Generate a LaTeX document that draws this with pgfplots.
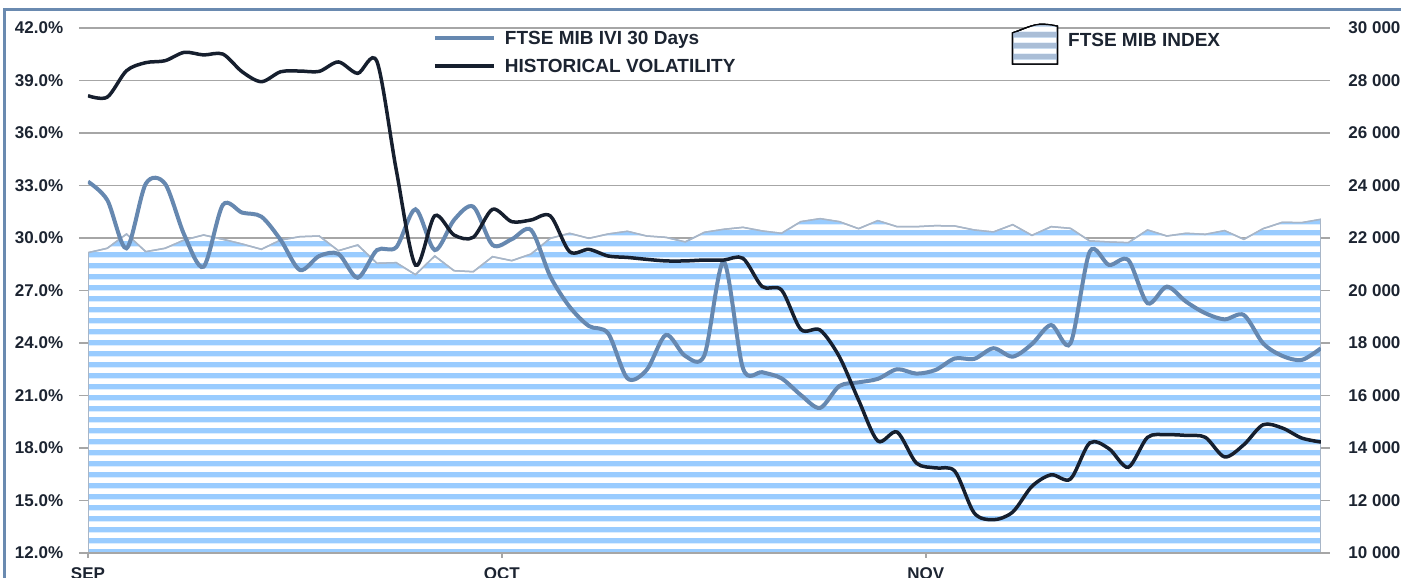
\documentclass[border=0pt]{standalone}
\usepackage{fontspec}
\setmainfont{Liberation Sans}
\usepackage{pgfplots}
\usepackage{pgfplotstable}
\pgfplotsset{compat=1.18}
\usetikzlibrary{patterns}

\definecolor{ivi}{RGB}{102,136,176}
\definecolor{hv}{RGB}{22,31,46}
\definecolor{stripe}{RGB}{153,204,255}
\definecolor{lgstripe}{RGB}{170,190,215}
\definecolor{edgec}{RGB}{168,182,200}
\definecolor{framec}{RGB}{106,138,176}
\definecolor{gridc}{RGB}{166,166,166}
\definecolor{txt}{RGB}{28,36,49}

\pgfdeclarepatternformonly{hstripes}{\pgfpoint{0pt}{0pt}}{\pgfpoint{10pt}{11pt}}{\pgfpoint{10pt}{11pt}}{%
  \pgfpathrectangle{\pgfpoint{-1pt}{1.8pt}}{\pgfpoint{12pt}{5.8pt}}\pgfusepath{fill}}

\pgfplotstableread{
i idx ivi hv
0 21440 33.22 38.13
1 21608 32.17 38.05
2 22152 29.41 39.56
3 21478 33.10 40.02
4 21608 33.10 40.13
5 21924 30.17 40.61
6 22114 28.36 40.46
7 21950 31.89 40.51
8 21771 31.45 39.50
9 21570 31.22 38.93
10 21924 29.89 39.50
11 22050 28.17 39.54
12 22076 28.97 39.52
13 21516 29.09 40.06
14 21733 27.73 39.41
15 21036 29.31 40.08
16 21059 29.47 33.90
17 20602 31.64 28.45
18 21314 29.31 31.27
19 20754 31.03 30.17
20 20716 31.79 30.04
21 21288 29.60 31.64
22 21136 29.93 30.93
23 21390 30.46 31.03
24 21988 27.80 31.26
25 22178 26.07 29.22
26 21988 24.97 29.35
27 22152 24.55 28.97
28 22254 21.98 28.89
29 22076 22.46 28.78
30 22025 24.46 28.69
31 21848 23.26 28.69
32 22216 23.31 28.74
33 22330 28.65 28.74
34 22406 22.55 28.84
35 22267 22.33 27.22
36 22178 21.98 27.03
37 22622 21.03 24.78
38 22736 20.29 24.74
39 22622 21.54 23.22
40 22356 21.75 20.74
41 22660 21.95 18.40
42 22432 22.50 18.91
43 22432 22.25 17.14
44 22470 22.46 16.86
45 22457 23.12 16.67
46 22305 23.09 14.29
47 22229 23.70 13.90
48 22508 23.22 14.34
49 22101 23.94 15.81
50 22432 25.03 16.47
51 22368 23.98 16.23
52 21886 29.22 18.29
53 21848 28.46 17.96
54 21822 28.74 16.90
55 22305 26.27 18.61
56 22076 27.22 18.76
57 22178 26.36 18.72
58 22140 25.70 18.61
59 22280 25.35 17.49
60 21950 25.60 18.19
61 22356 23.98 19.33
62 22597 23.26 19.14
63 22584 23.03 18.57
64 22711 23.70 18.34
}\chartdata

\begin{document}
\begin{tikzpicture}
\path[use as bounding box] (0,0) rectangle (1401pt,578pt);
\draw[framec, line width=3.3pt] (4.3pt,-20pt) -- (4.3pt,568.5pt) -- (1430pt,568.5pt);

% right axis: index area + grid
\begin{axis}[
  at={(88pt,25pt)}, anchor=south west,
  width=1233pt, height=525pt, scale only axis,
  xmin=0, xmax=64, ymin=10000, ymax=30000,
  scaled y ticks=false,
  axis x line=none,
  axis y line*=right,
  y axis line style={draw=none},
  ytick={10000,12000,14000,16000,18000,20000,22000,24000,26000,28000,30000},
  yticklabels={10 000,12 000,14 000,16 000,18 000,20 000,22 000,24 000,26 000,28 000,30 000},
  ymajorgrids,
  grid style={gridc, line width=1.5pt},
  tick style={gridc, line width=1.5pt},
  tick align=outside, major tick length=9pt,
  yticklabel style={font=\fontsize{17}{19}\selectfont\bfseries, text=txt, xshift=15pt},
  legend style={at={(0.7494,1.0095)}, anchor=north west, draw=none, fill=none,
    inner sep=0pt, outer sep=0pt, column sep=10pt,
    font=\fontsize{19}{22}\selectfont\bfseries, text=txt,
    nodes={inner sep=0pt, text height=13.6pt, text depth=0pt}},
  legend cell align=left,
]
\addplot[draw=edgec, line width=1.5pt, fill=white,
  postaction={pattern=hstripes, pattern color=stripe},
  legend image code/.code={
    \draw[black!80!txt, line width=1.2pt, fill=white, postaction={pattern=hstripes, pattern color=lgstripe}]
      (0pt,-24.5pt) -- (0pt,6.8pt) .. controls (8pt,9pt) and (20pt,16pt) .. (31pt,15.4pt)
      .. controls (38pt,15pt) and (42pt,14pt) .. (45pt,13.5pt) -- (45pt,-24.5pt) -- cycle;}
] table[x=i, y=idx] {\chartdata} \closedcycle;
\addlegendentry{FTSE MIB INDEX}
\end{axis}

% left axis: volatility lines
\begin{axis}[
  at={(88pt,25pt)}, anchor=south west,
  width=1233pt, height=525pt, scale only axis,
  xmin=0, xmax=64, ymin=12, ymax=42,
  axis x line*=bottom, axis y line*=left,
  x axis line style={gridc, line width=1.5pt},
  y axis line style={draw=none},
  xtick={0,21.48,43.49}, xticklabels={SEP,OCT,NOV},
  ytick={12,15,18,21,24,27,30,33,36,39,42},
  yticklabels={12.0\%,15.0\%,18.0\%,21.0\%,24.0\%,27.0\%,30.0\%,33.0\%,36.0\%,39.0\%,42.0\%},
  tick style={gridc, line width=1.5pt},
  tick align=outside,
  ytick style={/pgfplots/major tick length=9pt},
  xtick style={/pgfplots/major tick length=5pt},
  yticklabel style={font=\fontsize{17}{19}\selectfont\bfseries, text=txt, xshift=-17pt},
  xticklabel style={font=\fontsize{17}{19}\selectfont\bfseries, text=txt, yshift=-7pt},
  legend style={at={(0.2798,0.9939)}, anchor=north west, draw=none, fill=none,
    inner sep=0pt, outer sep=0pt, row sep=14.4pt, column sep=9pt,
    font=\fontsize{19}{22}\selectfont\bfseries, text=txt,
    nodes={inner sep=0pt, text height=13.6pt, text depth=0pt}},
  legend cell align=left,
  legend image code/.code={\draw[#1, line cap=butt] (0pt,0pt) -- (59pt,0pt);},
]
\addplot[ivi, line width=4pt, smooth, tension=0.5] table[x=i, y=ivi] {\chartdata};
\addlegendentry{FTSE MIB IVI 30 Days}
\addplot[hv, line width=3.5pt, smooth, tension=0.5] table[x=i, y=hv] {\chartdata};
\addlegendentry{HISTORICAL VOLATILITY}
\end{axis}
\end{tikzpicture}
\end{document}
